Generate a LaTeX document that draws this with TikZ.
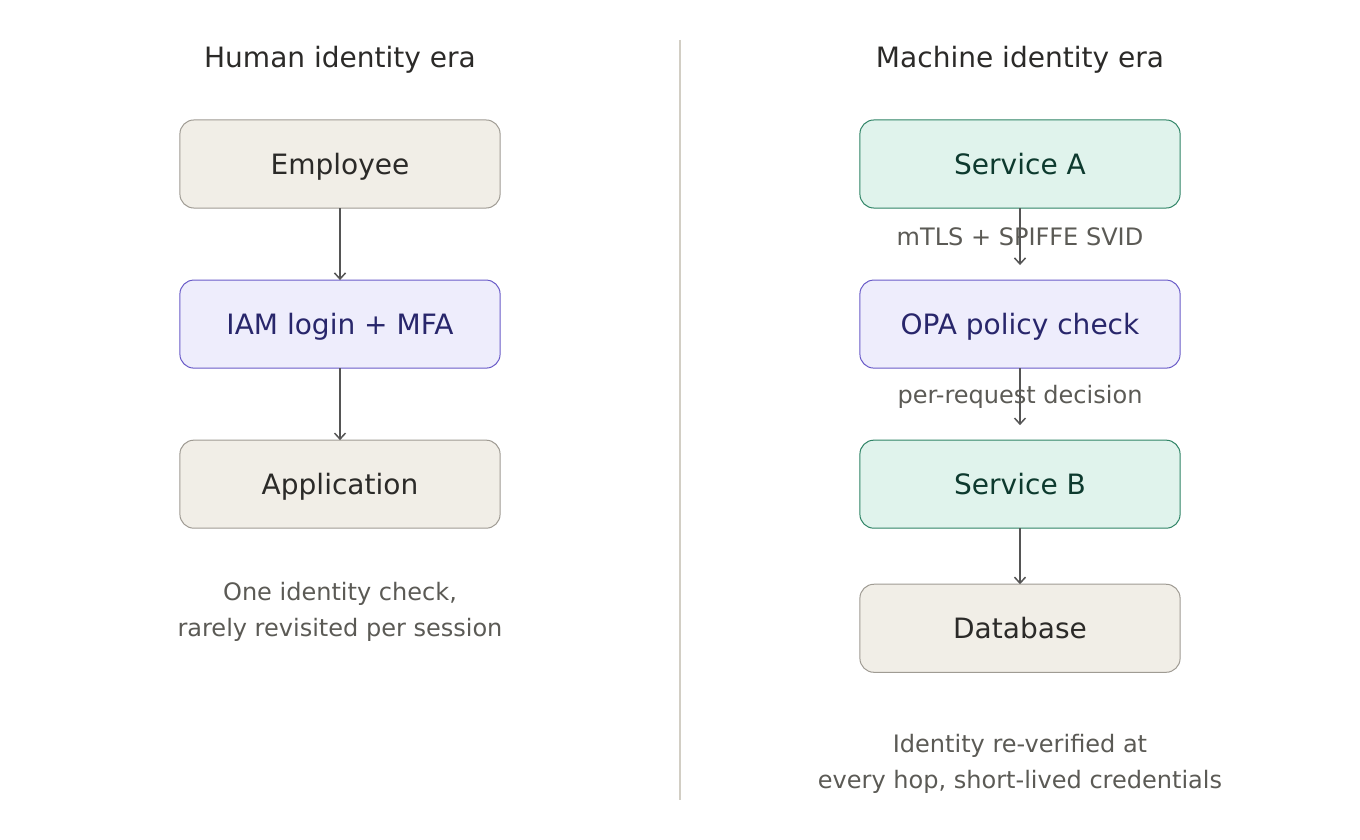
\documentclass[tikz,border=0pt]{standalone}
\usepackage{fontspec}
\setmainfont{DejaVu Sans}
\usepackage{tikz}
\usetikzlibrary{arrows.meta,positioning}
\definecolor{Ink}{HTML}{2B2A28}
\definecolor{Muted}{HTML}{5B5A55}
\definecolor{Rule}{HTML}{D2CEC4}
\definecolor{Stone}{HTML}{F1EEE7}
\definecolor{StoneEdge}{HTML}{9F9B93}
\definecolor{Mint}{HTML}{E0F3EC}
\definecolor{MintEdge}{HTML}{2F8466}
\definecolor{MintInk}{HTML}{0D3A2E}
\definecolor{Lilac}{HTML}{EEEDFC}
\definecolor{LilacEdge}{HTML}{6A5CC8}
\definecolor{LilacInk}{HTML}{28266B}
\definecolor{Wire}{HTML}{555555}
\newcommand\boxfont{\fontsize{7.97}{9.6}\selectfont}
\newcommand\notefont{\fontsize{6.83}{10.24}\selectfont}

\begin{document}
\begin{tikzpicture}[x=0.01cm, y=-0.01cm,
  stage/.style={draw=StoneEdge, fill=Stone, text=Ink, line width=0.1mm, outer sep=0pt,
    rounded corners=1.4mm, minimum width=3.2cm, minimum height=0.88cm, font=\boxfont,
    text height=0.73em, text depth=0.15em},
  svc/.style={stage, draw=MintEdge, fill=Mint, text=MintInk},
  gate/.style={stage, draw=LilacEdge, fill=Lilac, text=LilacInk},
  flow/.style={-{Straight Barb[length=0.6mm,width=1.1mm]}, line width=0.15mm, draw=Wire},
  note/.style={font=\notefont, text=Muted, align=center},
  head/.style={font=\boxfont, text=Ink, text height=0.73em, text depth=0.2em}
]
  \useasboundingbox (0,0) rectangle (1360,840);
  \draw[draw=Rule, line width=0.2mm] (680,40) -- (680,800);

  \node[head] (hhead) at (340,58) {Human identity era};
  \node[head] (mhead) at (1020,58) {Machine identity era};

  % human side
  \node[stage] (emp) at (340,164) {Employee};
  \node[gate, below=0.72cm of emp] (iam) {IAM login + MFA};
  \node[stage, below=0.72cm of iam] (app) {Application};
  \node[note] (hnote) at (340,612) {One identity check,\\rarely revisited per session};

  \draw[flow] (emp) -- (iam);
  \draw[flow] (iam) -- (app);

  % machine side
  \node[svc] (svca) at (1020,164) {Service A};
  \node[gate, below=0.72cm of svca] (opa) {OPA policy check};
  \node[svc, below=0.72cm of opa] (svcb) {Service B};
  \node[stage, below=0.56cm of svcb] (db) {Database};
  \node[note] (mnote) at (1020,764) {Identity re-verified at\\every hop, short-lived credentials};

  \draw[flow] (svca.south) -- node[note]{mTLS + SPIFFE SVID} ([yshift=1.5mm]opa.north);
  \draw[flow] (opa.south) -- node[note]{per-request decision} ([yshift=1.5mm]svcb.north);
  \draw[flow] (svcb) -- (db);
\end{tikzpicture}
\end{document}
